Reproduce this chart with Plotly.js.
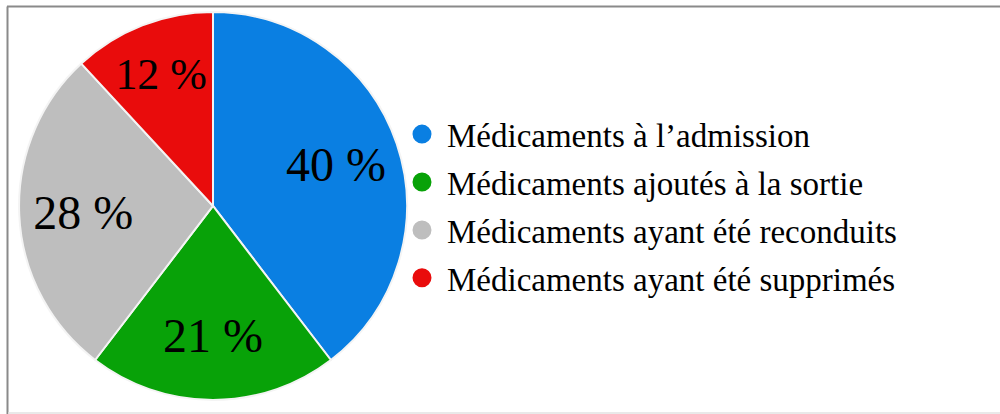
<!DOCTYPE html>
<html>
<head>
<meta charset="utf-8">
<script src="https://cdn.plot.ly/plotly-3.0.1.min.js"></script>
<style>html,body{margin:0;padding:0;background:#fff;}#chart{width:1000px;height:414px;}</style>
</head>
<body>
<div id="chart"></div>
<script>
const categories = [
  "Médicaments à l’admission",
  "Médicaments ajoutés à la sortie",
  "Médicaments ayant été reconduits",
  "Médicaments ayant été supprimés"
];
const values = [40, 21, 28, 12];
const colors = ["#0a7fe2", "#08a208", "#bebebe", "#e90c0c"];

const FONT = "Liberation Serif";
const dom = { x: [0.019, 0.407], y: [0.034, 0.971] };

const pie = {
  type: "pie",
  labels: categories,
  values: values,
  sort: false,
  direction: "clockwise",
  rotation: 0,
  marker: { colors: colors, line: { color: "#f4f4f4", width: 2 } },
  textinfo: "none",
  showlegend: false,
  hoverinfo: "label+value",
  domain: dom
};

// transparent ring overlay used only to place the value labels farther out
const labelsRing = {
  type: "pie",
  labels: categories,
  values: values,
  sort: false,
  direction: "clockwise",
  rotation: 0,
  hole: 0.34,
  marker: { colors: categories.map(() => "rgba(0,0,0,0)"), line: { width: 0 } },
  texttemplate: "%{value} %",
  textposition: "inside",
  insidetextorientation: "horizontal",
  textfont: { family: FONT, size: 48, color: "#000" },
  showlegend: false,
  hoverinfo: "skip",
  domain: dom
};

const legendTraces = categories.map((c, i) => ({
  type: "scatter",
  mode: "markers",
  x: [null], y: [null],
  name: c,
  legendgroup: "g" + i,
  marker: { symbol: "circle", size: 16, color: colors[i], line: { color: colors[i], width: 3 } },
  hoverinfo: "skip"
}));

const layout = {
  width: 1000, height: 414,
  margin: { l: 0, r: 0, t: 0, b: 0 },
  paper_bgcolor: "#fff",
  plot_bgcolor: "rgba(0,0,0,0)",
  xaxis: { visible: false, domain: [0.99, 1] },
  yaxis: { visible: false, domain: [0.99, 1] },
  showlegend: true,
  legend: {
    x: 0.397, y: 0.502, xanchor: "left", yanchor: "middle",
    font: { family: FONT, size: 33, color: "#000" },
    itemwidth: 40,
    tracegroupgap: 2,
    bgcolor: "rgba(0,0,0,0)"
  },
  shapes: [
    { type: "line", xref: "paper", yref: "paper", x0: 0.007, x1: 1, y0: 1 - 6.5/414, y1: 1 - 6.5/414, line: { color: "#8a8a8a", width: 2 } },
    { type: "line", xref: "paper", yref: "paper", x0: 0.0075, x1: 0.0075, y0: 0, y1: 1 - 6.5/414, line: { color: "#8a8a8a", width: 2 } },
    { type: "line", xref: "paper", yref: "paper", x0: 0.008, x1: 1, y0: 1/414, y1: 1/414, line: { color: "#e2e2e2", width: 1.5 } }
  ]
};

Plotly.newPlot("chart", [pie, labelsRing].concat(legendTraces), layout, { displayModeBar: false, staticPlot: true });
</script>
</body>
</html>
